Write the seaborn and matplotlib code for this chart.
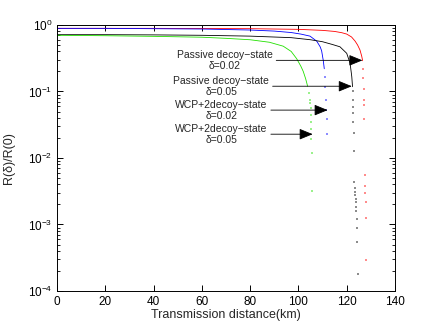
"""
Relative key rate R(delta)/R(0) versus transmission distance
"""

import numpy as np
import pandas as pd
import matplotlib
matplotlib.use("Agg")
import matplotlib.pyplot as plt
import seaborn as sns

# ---- data (distance in km, ratio R(delta)/R(0)) ----
red_km = [0, 20, 40, 60, 80, 100, 110, 115, 118, 120, 122, 123.5, 124.5, 125.5, 126.2, 126.6]
red_ratio = [0.89, 0.89, 0.89, 0.885, 0.88, 0.86, 0.83, 0.80, 0.765, 0.73, 0.66, 0.57, 0.50, 0.42, 0.34, 0.29]
red_tail_km = [126.8, 126.9, 127.0, 127.1, 127.2, 127.3, 127.6, 127.7, 127.7, 127.8, 128.0, 128.1]
red_tail_ratio = [0.22, 0.16, 0.11, 0.074, 0.062, 0.039, 0.0055, 0.0038, 0.003, 0.0022, 0.00126, 0.00029]

blue_km = [0, 20, 40, 60, 80, 90, 97, 101, 104.8, 107.6, 109, 109.6, 110.3, 110.7]
blue_ratio = [0.89, 0.89, 0.88, 0.87, 0.84, 0.81, 0.77, 0.73, 0.68, 0.57, 0.47, 0.41, 0.29, 0.22]
blue_tail_km = [111.0, 111.2, 111.4, 111.6, 111.8, 112.0]
blue_tail_ratio = [0.166, 0.118, 0.074, 0.052, 0.039, 0.023]

black_km = [0, 20, 40, 60, 80, 97, 105, 110, 114, 117.2, 120, 121.4, 122.1, 122.4]
black_ratio = [0.715, 0.715, 0.71, 0.70, 0.68, 0.645, 0.60, 0.56, 0.51, 0.47, 0.375, 0.265, 0.166, 0.118]
black_tail_km = [122.6, 122.6, 122.7, 122.7, 122.8, 122.9, 123.1, 123.2, 123.3, 123.5,
                 123.6, 123.7, 123.8, 123.9, 124.0, 124.1, 124.2, 124.4, 124.7]
black_tail_ratio = [0.1, 0.074, 0.0575, 0.047, 0.035, 0.024, 0.0126, 0.0044, 0.0036, 0.0031,
                    0.00275, 0.00245, 0.0022, 0.00186, 0.0016, 0.00123, 0.00089, 0.00055, 0.00018]

green_km = [0, 20, 40, 60, 70, 80, 88, 93.7, 97, 99.3, 101, 102, 103, 103.8]
green_ratio = [0.70, 0.69, 0.675, 0.655, 0.63, 0.60, 0.55, 0.48, 0.40, 0.31, 0.24, 0.20, 0.155, 0.12]
green_tail_km = [104.3, 104.6, 104.8, 105.0, 105.1, 105.2, 105.3, 105.4, 105.5, 105.8]
green_tail_ratio = [0.095, 0.074, 0.066, 0.057, 0.044, 0.035, 0.0275, 0.0195, 0.0117, 0.0032]

labels = ["Passive decoy\u2212state\n\u03b4=0.02",
          "Passive decoy\u2212state\n\u03b4=0.05",
          "WCP+2decoy\u2212state\n\u03b4=0.02",
          "WCP+2decoy\u2212state\n\u03b4=0.05"]

sns.set_style("white")
plt.rcParams["font.family"] = ["Liberation Sans", "DejaVu Sans"]
plt.rcParams["mathtext.fontset"] = "custom"
plt.rcParams["mathtext.rm"] = "Liberation Sans"
plt.rcParams["mathtext.it"] = "Liberation Sans:italic"
plt.rcParams.update({
    "xtick.bottom": True, "xtick.top": True,
    "ytick.left": True, "ytick.right": True,
    "xtick.direction": "in", "ytick.direction": "in",
    "xtick.major.size": 4, "ytick.major.size": 4,
    "xtick.minor.size": 2, "ytick.minor.size": 2,
    "xtick.major.width": 0.7, "ytick.major.width": 0.7,
    "xtick.minor.width": 0.6, "ytick.minor.width": 0.6,
    "xtick.color": "black", "ytick.color": "black",
})

fig = plt.figure(figsize=(4.36, 3.28), dpi=100)
ax = fig.add_axes([0.1307, 0.1128, 0.7753, 0.811])

series = [
    (red_km, red_ratio, red_tail_km, red_tail_ratio, "#ff0000"),
    (blue_km, blue_ratio, blue_tail_km, blue_tail_ratio, "#0000ff"),
    (black_km, black_ratio, black_tail_km, black_tail_ratio, "#000000"),
    (green_km, green_ratio, green_tail_km, green_tail_ratio, "#22e000"),
]

for km, ratio, tkm, tratio, color in series:
    df = pd.DataFrame({"km": km, "ratio": ratio})
    sns.lineplot(data=df, x="km", y="ratio", color=color, linewidth=0.6,
                 sort=False, estimator=None, ax=ax)
    tail = pd.DataFrame({"km": tkm, "ratio": tratio})
    sns.scatterplot(data=tail, x="km", y="ratio", color=color, s=0.8,
                    linewidth=0, alpha=0.45, marker="s", ax=ax)

ax.set_yscale("log")
ax.set_xlim(0, 140)
ax.set_ylim(1e-4, 1)
ax.set_xticks(np.arange(0, 141, 20))

ax.set_xlabel("Transmission distance(km)", fontsize=9, labelpad=1)
ax.set_ylabel("R(\u03b4)/R(0)", fontsize=9, labelpad=9)
ax.tick_params(which="both", labelsize=8.5)
for sp in ax.spines.values():
    sp.set_linewidth(0.7)
    sp.set_color("black")

# annotation arrows: (text x, y, arrow tip x)
ann_text_x = [69.6, 68.1, 68.1, 68.1]
ann_y = [0.294, 0.12, 0.0525, 0.0228]
ann_tip_x = [126.5, 122.1, 112.1, 105.9]

for lab, tx, y, tip in zip(labels, ann_text_x, ann_y, ann_tip_x):
    ax.annotate(lab, xy=(tip, y), xytext=(tx, y), ha="center", va="center",
                fontsize=7.5, multialignment="center", linespacing=1.15,
                arrowprops=dict(arrowstyle="-|>,head_length=1.1,head_width=0.45",
                                color="black", lw=0.6, shrinkA=0, shrinkB=0))

fig.savefig("out.png", dpi=100)
